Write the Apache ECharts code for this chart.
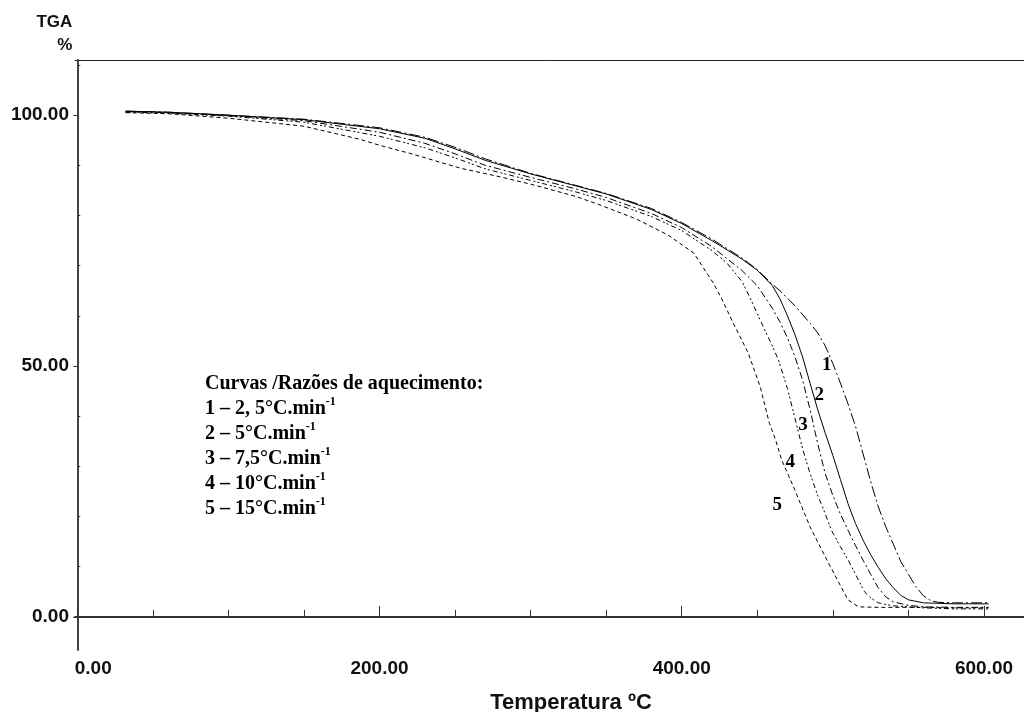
<!DOCTYPE html>
<html>
<head>
<meta charset="utf-8">
<script src="https://cdn.jsdelivr.net/npm/echarts@6/dist/echarts.min.js"></script>
<style>
html,body{margin:0;padding:0;background:#fff;}
#chart{width:1024px;height:712px;}
</style>
</head>
<body>
<div id="chart"></div>
<script>
// Curve 1 – 2,5 °C/min (long dash-dot)
const temp1 = [32, 60, 100, 150, 200, 230, 250, 270, 300, 330, 350, 380, 400, 420, 440, 450, 460, 465, 475, 485, 490, 495, 500, 505, 510, 515, 520, 525, 530, 535, 540, 545, 550, 555, 560, 565, 570, 580, 603];
const tga1  = [100.8, 100.6, 100.0, 99.2, 97.5, 95.6, 93.6, 91.3, 88.4, 86.0, 84.4, 81.4, 78.6, 75.3, 71.5, 69.2, 66.3, 65.0, 62.0, 58.5, 56.6, 54.0, 50.5, 46.6, 42.5, 38.0, 32.5, 27.0, 22.0, 18.0, 14.5, 11.0, 8.5, 6.0, 4.2, 3.2, 2.9, 2.8, 2.8];
// Curve 2 – 5 °C/min (solid)
const temp2 = [32, 60, 100, 150, 200, 230, 250, 270, 300, 330, 350, 380, 400, 420, 440, 450, 460, 465, 470, 475, 480, 485, 490, 495, 500, 505, 510, 515, 520, 525, 530, 535, 540, 545, 550, 560, 580, 603];
const tga2  = [100.8, 100.6, 100.0, 99.1, 97.3, 95.4, 93.3, 91.0, 88.3, 85.9, 84.3, 81.2, 78.4, 75.0, 71.3, 69.1, 66.0, 63.4, 60.0, 56.2, 51.8, 46.5, 41.3, 36.6, 32.2, 27.4, 22.6, 18.6, 15.3, 12.4, 9.9, 7.6, 5.8, 4.3, 3.4, 2.8, 2.6, 2.6];
// Curve 3 – 7,5 °C/min (dash-dot)
const temp3 = [32, 60, 100, 150, 200, 230, 250, 270, 300, 330, 350, 380, 400, 420, 440, 450, 460, 465, 470, 475, 480, 485, 490, 495, 500, 505, 510, 515, 520, 525, 530, 535, 540, 550, 560, 580, 603];
const tga3  = [100.7, 100.5, 99.9, 98.9, 96.6, 94.4, 92.3, 90.0, 87.6, 85.3, 83.6, 80.4, 77.6, 73.8, 69.0, 66.0, 61.5, 58.8, 55.6, 51.8, 47.2, 41.2, 34.5, 28.5, 24.2, 20.5, 17.3, 14.2, 11.3, 8.5, 5.8, 4.0, 3.0, 2.3, 2.0, 1.9, 1.9];
// Curve 4 – 10 °C/min (dash-dot-dot)
const temp4 = [32, 60, 100, 150, 200, 230, 250, 270, 300, 330, 350, 380, 400, 420, 430, 440, 446, 454, 460, 464, 470, 475, 480, 485, 490, 494, 499, 505, 510, 515, 521, 525, 530, 540, 560, 580, 603];
const tga4  = [100.6, 100.4, 99.8, 98.6, 95.8, 93.5, 91.5, 89.3, 87.0, 84.7, 83.0, 79.8, 77.0, 73.0, 70.5, 66.8, 63.1, 57.8, 54.0, 51.2, 45.5, 39.5, 33.5, 28.5, 24.2, 21.3, 17.3, 14.0, 11.4, 8.5, 5.0, 3.8, 2.8, 2.2, 1.8, 1.6, 1.6];
// Curve 5 – 15 °C/min (short dash)
const temp5 = [32, 60, 100, 150, 187, 200, 220, 254, 280, 302, 330, 346, 370, 391, 408, 421, 426, 434, 444, 452, 458, 462, 466, 474, 485, 497, 510, 517, 530, 560, 580, 603];
const tga5  = [100.5, 100.3, 99.4, 97.8, 95.2, 94.0, 92.4, 89.4, 87.7, 86.1, 83.8, 82.1, 79.3, 76.1, 72.5, 66.5, 63.7, 58.6, 52.6, 45.8, 38.6, 35.4, 31.4, 25.9, 17.9, 10.8, 3.4, 2.0, 1.9, 1.9, 1.8, 1.8];

// Curve number labels placed near the curves
const curveLabels = ['1', '2', '3', '4', '5'];
const curveLabelPos = [[496, 50.2], [491, 44.2], [480.3, 38.2], [471.8, 30.9], [463.2, 22.3]];

// Axis ticks
const xMajorTicks = [0, 200, 400, 600];
const xMinorTicks = [50, 100, 150, 250, 300, 350, 450, 500, 550];
const yMajorTicks = [0, 50, 100];
const yMinorTicks = [10, 20, 30, 40, 60, 70, 80, 90, 110];

const legendLines = [
  'Curvas /Razões de aquecimento:',
  '1 – 2, 5°C.min{sup|-1}',
  '2 – 5°C.min{sup|-1}',
  '3 – 7,5°C.min{sup|-1}',
  '4 – 10°C.min{sup|-1}',
  '5 – 15°C.min{sup|-1}'
];

const zip = (a, b) => a.map((v, i) => [v, b[i]]);
const sansBold = {fontFamily: 'Liberation Sans, Arial, sans-serif', fontWeight: 'bold', color: '#111'};
const serif = 'Liberation Serif, Times New Roman, serif';

const chart = echarts.init(document.getElementById('chart'), null, {renderer: 'canvas'});
const lineBase = (name, data, type) => ({
  name, type: 'line', data, symbol: 'none', smooth: false,
  lineStyle: {color: '#000', width: 1, type: type}, silent: true, z: 3
});

chart.setOption({
  animation: false,
  backgroundColor: '#fff',
  title: {
    left: 200, top: 366,
    text: legendLines.join('\n'),
    textStyle: {
      fontFamily: serif, fontWeight: 'bold',
      fontSize: 20, lineHeight: 25, color: '#000',
      rich: {
        sup: {fontFamily: serif, fontWeight: 'bold',
              fontSize: 12, verticalAlign: 'top', padding: [0, 0, 10, 0], color: '#000', lineHeight: 25}
      }
    }
  },
  grid: {left: 75, right: 0, top: 60, bottom: 62, containLabel: false, outerBoundsMode: 'none'},
  xAxis: [
    {
      type: 'value', min: -1.5, max: 626.5, position: 'bottom',
      name: 'Temperatura ºC', nameLocation: 'middle', nameGap: 42,
      nameTextStyle: Object.assign({fontSize: 22, padding: [0, 0, 0, 43]}, sansBold),
      axisLine: {show: true, lineStyle: {color: '#333', width: 2}},
      axisTick: {show: true, inside: true, length: 7, customValues: xMinorTicks, lineStyle: {color: '#333', width: 1}},
      axisLabel: {
        show: true, margin: 9, customValues: xMajorTicks,
        formatter: v => v === 0 ? '{z|0.00}' : v.toFixed(2),
        fontSize: 19, fontFamily: sansBold.fontFamily, fontWeight: 'bold', color: '#111',
        rich: {z: {fontSize: 19, fontFamily: sansBold.fontFamily, fontWeight: 'bold', color: '#111', padding: [0, 0, 0, 32]}}
      },
      splitLine: {show: false}
    },
    {
      type: 'value', min: -1.5, max: 626.5, position: 'bottom',
      axisLine: {show: false},
      axisTick: {show: true, inside: true, length: 11, customValues: xMajorTicks, lineStyle: {color: '#333', width: 1}},
      axisLabel: {show: false}, splitLine: {show: false}
    },
    {
      type: 'value', min: -1.5, max: 626.5, position: 'top',
      axisLine: {show: true, lineStyle: {color: '#222', width: 1}},
      axisTick: {show: false}, axisLabel: {show: false}, splitLine: {show: false}
    }
  ],
  yAxis: [
    {
      type: 'value', min: -6.6, max: 111.0, position: 'left',
      name: 'TGA\n%', nameLocation: 'end', nameGap: 3,
      nameTextStyle: Object.assign({fontSize: 17, lineHeight: 23, align: 'right', verticalAlign: 'bottom', padding: [0, 5, 0, 0]}, sansBold),
      axisLine: {show: true, lineStyle: {color: '#444', width: 2}},
      axisTick: {show: true, inside: false, length: 4, customValues: yMajorTicks, lineStyle: {color: '#333'}},
      axisLabel: {show: true, margin: 6, customValues: yMajorTicks, formatter: v => v.toFixed(2),
                  fontSize: 19, fontFamily: sansBold.fontFamily, fontWeight: 'bold', color: '#111'},
      splitLine: {show: false}
    },
    {
      type: 'value', min: -6.6, max: 111.0, position: 'left',
      axisLine: {show: false},
      axisTick: {show: true, inside: true, length: 3, customValues: yMinorTicks, lineStyle: {color: '#333'}},
      axisLabel: {show: false}, splitLine: {show: false}
    }
  ],
  series: [
    lineBase('1', zip(temp1, tga1), [11, 3, 2, 3]),
    lineBase('2', zip(temp2, tga2), 'solid'),
    lineBase('3', zip(temp3, tga3), [7, 3, 2, 3]),
    lineBase('4', zip(temp4, tga4), [5, 3, 2, 2, 2, 3]),
    lineBase('5', zip(temp5, tga5), [4, 3]),
    {
      type: 'scatter', silent: true, symbolSize: 0, z: 4,
      data: curveLabelPos.map((p, i) => ({value: p, name: curveLabels[i]})),
      label: {show: true, position: 'inside', formatter: p => p.name,
              fontFamily: serif, fontWeight: 'bold', fontSize: 19, color: '#000', opacity: 1}
    }
  ]
});
</script>
</body>
</html>
